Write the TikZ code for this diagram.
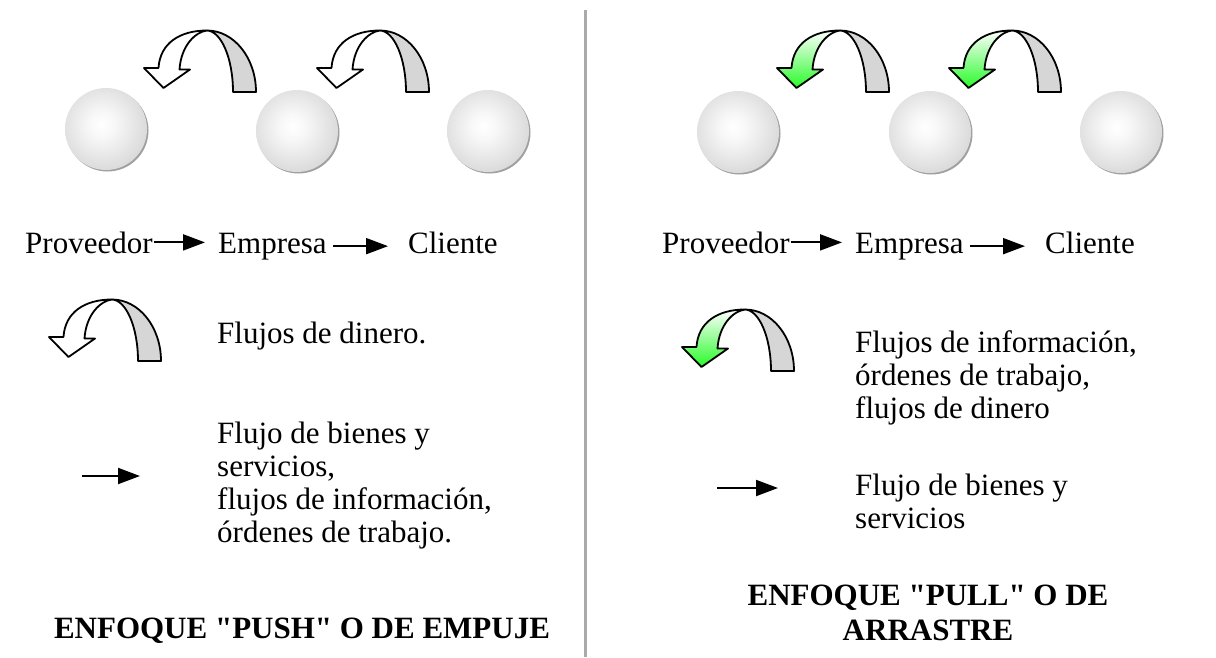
\documentclass[tikz,border=0pt]{standalone}
\usepackage{fontspec}
\setmainfont{Liberation Serif}[Ligatures=TeXOff]
\usetikzlibrary{arrows.meta}
\pgfdeclareradialshading{sphereshade}{\pgfpoint{-3bp}{3bp}}{color(0bp)=(white); color(8bp)=(black!3); color(32bp)=(black!17); color(46bp)=(black!24); color(50bp)=(black!26); color(100bp)=(black!26)}
\definecolor{backgray}{RGB}{214,214,214}
\definecolor{arrgreen}{RGB}{40,250,40}
\definecolor{divgray}{RGB}{170,170,170}
\definecolor{rimgray}{RGB}{160,160,160}
\tikzset{
  txt/.style={font=\fontsize{31}{33}\selectfont, inner sep=0pt, anchor=base west, align=left},
  ttl/.style={font=\bfseries\fontsize{31}{35}\selectfont, inner sep=0pt, anchor=base, align=center},
  flowarrow/.style={line width=2pt, -{Triangle[length=22pt,width=16pt]}},
  ribbon/.style={draw=black, line width=1.8pt, line join=round},
  sphere/.style={circle, minimum size=82pt, inner sep=0pt, shading=sphereshade},
  pics/uturn/.style={code={
    \path[ribbon, fill=backgray] (0,-0.5) .. controls (27,-0.5) and (49,27) .. (49,61) -- (26,61) .. controls (26,27) and (14,0) .. (0,-0.5) -- cycle;
    \path[ribbon, #1] (-27.5,38.5) -- (-17,38.5) -- (-43.5,57) -- (-63,37) -- (-48.5,37) .. controls (-47,12) and (-27,-0.5) .. (0,-0.5) .. controls (-12,1) and (-26,15) .. (-27.5,38.5) -- cycle;
  }},
  whitefront/.style={fill=white},
  greenfront/.style={top color=white, bottom color=arrgreen},
}
\begin{document}
\begin{tikzpicture}[x=1pt, y=-1pt]
\useasboundingbox (0,0) rectangle (1216,657);
% divider
\draw[divgray, line width=3pt] (585,10) -- (585,657);
% spheres
\foreach \n/\cx/\cy in {sl1/106/129, sl2/297/131, sl3/488/131, sr1/738/132, sr2/930/132, sr3/1121/132}{
  \fill[rimgray] (\cx+1.5,\cy+1.5) circle[radius=41];
  \node[sphere] (\n) at (\cx,\cy) {};
}
% curved arrows
\pic at (207,31) {uturn=whitefront};
\pic at (380,31) {uturn=whitefront};
\pic at (840,31) {uturn=greenfront};
\pic at (1012,31) {uturn=greenfront};
\pic at (112,300) {uturn=whitefront};
\pic at (745,310) {uturn=greenfront};
% left row
\node[txt] (pL) at (25,253) {Proveedor};
\node[txt] (eL) at (218,253) {Empresa};
\node[txt] (cL) at (408,253) {Cliente};
\draw[flowarrow, shorten <=1pt, shorten >=13pt] (pL.east) -- (pL.east -| eL.west);
\draw[flowarrow, shorten <=6pt, shorten >=20pt] (eL.east) -- (eL.east -| cL.west);
% right row
\node[txt] (pR) at (662,253) {Proveedor};
\node[txt] (eR) at (855,253) {Empresa};
\node[txt] (cR) at (1045,253) {Cliente};
\draw[flowarrow, shorten <=1pt, shorten >=13pt] (pR.east) -- (pR.east -| eR.west);
\draw[flowarrow, shorten <=6pt, shorten >=20pt] (eR.east) -- (eR.east -| cR.west);
% left legend
\node[txt] (dinL) at (217,343) {Flujos de dinero.};
\node[txt] (bienL) at (217,542) {Flujo de bienes y\\servicios,\\flujos de información,\\órdenes de trabajo.};
\coordinate (laA) at (82,476);
\coordinate (laB) at (140,476);
\draw[flowarrow] (laA) -- (laB);
% right legend
\node[txt] (infR) at (855,418) {Flujos de información,\\órdenes de trabajo,\\flujos de dinero};
\node[txt] (bienR) at (855,528) {Flujo de bienes y\\servicios};
\coordinate (raA) at (717,488);
\coordinate (raB) at (778,488);
\draw[flowarrow] (raA) -- (raB);
% titles
\node[ttl] (tL) at (302,638) {ENFOQUE "PUSH" O DE EMPUJE};
\node[ttl] (tR) at (928,640) {ENFOQUE "PULL" O DE\\ARRASTRE};
\end{tikzpicture}
\end{document}
